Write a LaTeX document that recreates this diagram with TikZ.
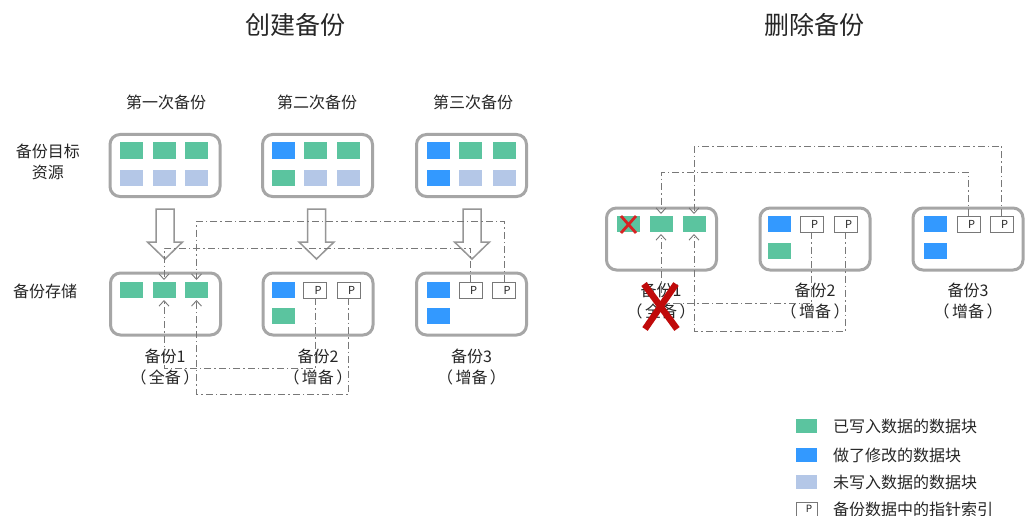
\documentclass[tikz,border=0pt]{standalone}
\usepackage{fontspec}
\setmainfont{Noto Sans CJK SC}
\usetikzlibrary{arrows.meta}
\definecolor{cgreen}{RGB}{91,196,159}
\definecolor{cblue}{RGB}{51,153,255}
\definecolor{clblue}{RGB}{180,199,231}
\definecolor{boxgray}{RGB}{166,166,166}
\definecolor{pgray}{RGB}{120,120,120}
\definecolor{lgray}{RGB}{120,120,120}
\definecolor{agray}{RGB}{150,150,150}
\definecolor{txt}{RGB}{38,38,38}
\definecolor{xred}{RGB}{192,10,10}
\definecolor{xred2}{RGB}{215,35,35}
\newcommand{\qpar}[1]{（\kern2.5pt #1\kern2.5pt）}
\begin{document}
\begin{tikzpicture}[x=1pt,y=-1pt,
  container/.style={draw=boxgray,line width=3pt,rounded corners=10pt,minimum width=110pt,minimum height=62pt,inner sep=0},
  blk/.style={minimum width=23pt,minimum height=16pt,inner sep=0,outer sep=0},
  gb/.style={blk,fill=cgreen},
  bb/.style={blk,fill=cblue},
  lb/.style={blk,fill=clblue},
  pb/.style={blk,draw=pgray,line width=0.8pt,fill=white,font=\fontsize{11}{11}\selectfont,text=txt},
  link/.style={draw=lgray,line width=0.9pt,dash pattern=on 7pt off 3pt on 1.5pt off 3pt},
  tipend/.style={-{Straight Barb[length=5.5pt,width=10pt]},shorten >=2pt},
  bigarrow/.style={draw=agray,line width=1.5pt,fill=white,line join=miter},
  lbl/.style={font=\fontsize{16}{21}\selectfont,text=txt,align=center,inner sep=0},
  ttl/.style={font=\fontsize{25}{28}\selectfont,text=txt,inner sep=0},
  leg/.style={font=\fontsize{16}{20}\selectfont,text=txt,anchor=west,inner sep=0},
  keyblk/.style={minimum width=21pt,minimum height=14pt,inner sep=0}
]
\fill[white] (0,0) rectangle (1025,516);
\useasboundingbox (0,0) rectangle (1025,516);

% titles
\node[ttl] (title1) at (295.5,25) {创建备份};
\node[ttl] (title2) at (814.5,25) {删除备份};

% column headers
\node[lbl] (h1) at (166,102) {第一次备份};
\node[lbl] (h2) at (317,102) {第二次备份};
\node[lbl] (h3) at (473,102) {第三次备份};

% row labels
\node[lbl] (rowA) at (48,161.5) {备份目标\\资源};
\node[lbl] (rowB) at (45,291) {备份存储};

% ---------- left: source boxes
\node[container] (t1) at (165,165.5) {};
\node[gb] (t1a) at (131.5,150.5) {};
\node[gb] (t1b) at (164,150.5) {};
\node[gb] (t1c) at (196.5,150.5) {};
\node[lb] (t1d) at (131.5,178) {};
\node[lb] (t1e) at (164,178) {};
\node[lb] (t1f) at (196.5,178) {};

\node[container] (t2) at (317.5,165.5) {};
\node[bb] (t2a) at (283,150.5) {};
\node[gb] (t2b) at (315,150.5) {};
\node[gb] (t2c) at (348,150.5) {};
\node[gb] (t2d) at (283,178) {};
\node[lb] (t2e) at (315,178) {};
\node[lb] (t2f) at (348,178) {};

\node[container] (t3) at (471.5,165.5) {};
\node[bb] (t3a) at (438.5,150.5) {};
\node[gb] (t3b) at (470.5,150.5) {};
\node[gb] (t3c) at (504,150.5) {};
\node[bb] (t3d) at (438.5,178) {};
\node[lb] (t3e) at (470.5,178) {};
\node[lb] (t3f) at (504,178) {};

% big hollow arrows
\foreach \cx in {165,316.5,472}{
  \draw[bigarrow] ({\cx-9},209) -- ({\cx+9},209) -- ({\cx+9},242) -- ({\cx+17.5},242)
     -- (\cx,259) -- ({\cx-17.5},242) -- ({\cx-9},242) -- cycle;
}

% ---------- left: storage boxes
\node[container] (s1) at (165.5,304) {};
\node[gb] (s1a) at (131.5,290) {};
\node[gb] (s1b) at (164,290) {};
\node[gb] (s1c) at (196.5,290) {};

\node[container] (s2) at (318,304) {};
\node[bb] (s2a) at (283,290) {};
\node[pb] (s2b) at (315,290) {\hspace*{6pt}P};
\node[pb] (s2c) at (348.5,290) {\hspace*{6pt}P};
\node[gb] (s2d) at (283,316) {};

\node[container] (s3) at (471.5,304) {};
\node[bb] (s3a) at (438.5,290) {};
\node[pb] (s3b) at (470.5,290) {\hspace*{6pt}P};
\node[pb] (s3c) at (504,290) {\hspace*{6pt}P};
\node[bb] (s3d) at (438.5,316) {};

% storage labels
\node[lbl] (l1) at (165,367.5) {备份1\\\qpar{全备}};
\node[lbl] (l2) at (318,367.5) {备份2\\\qpar{增备}};
\node[lbl] (l3) at (471.5,367.5) {备份3\\\qpar{增备}};

% left connectors
\coordinate (yA) at (0,248);
\coordinate (yB) at (0,221);
\coordinate (yC) at (0,368);
\coordinate (yD) at (0,394);
\draw[link,tipend] (s3b.north) -- (s3b.north |- yA) -| (s1b.north);
\draw[link,tipend] (s3c.north) -- (s3c.north |- yB) -| (s1c.north);
\draw[link,tipend] (s2b.south) -- (s2b.south |- yC) -| (s1b.south);
\draw[link,tipend] (s2c.south) -- (s2c.south |- yD) -| (s1c.south);

% ---------- right panel
\node[container] (u1) at (661.5,239) {};
\node[gb] (q1a) at (628,224) {};
\node[gb] (q1b) at (661,224) {};
\node[gb] (q1c) at (694,224) {};

\node[container] (u2) at (815,239) {};
\node[bb] (q2a) at (779,224) {};
\node[pb] (q2b) at (811.5,224) {\hspace*{6pt}P};
\node[pb] (q2c) at (845.5,224) {\hspace*{6pt}P};
\node[gb] (q2d) at (779,251) {};

\node[container] (u3) at (968,239) {};
\node[bb] (q3a) at (935,224) {};
\node[pb] (q3b) at (968.5,224) {\hspace*{6pt}P};
\node[pb] (q3c) at (1001.5,224) {\hspace*{6pt}P};
\node[bb] (q3d) at (935,251) {};

\node[lbl] (m1) at (661,301.5) {备份1\\\qpar{全备}};
\node[lbl] (m2) at (815,301.5) {备份2\\\qpar{增备}};
\node[lbl] (m3) at (968,301.5) {备份3\\\qpar{增备}};

\coordinate (yE) at (0,146);
\coordinate (yF) at (0,172);
\coordinate (yG) at (0,303);
\coordinate (yH) at (0,331);
\draw[link,tipend] (q3c.north) -- (q3c.north |- yE) -| (q1c.north);
\draw[link,tipend] (q3b.north) -- (q3b.north |- yF) -| (q1b.north);
\draw[link,tipend] (q2b.south) -- (q2b.south |- yG) -| (q1b.south);
\draw[link,tipend] (q2c.south) -- (q2c.south |- yH) -| (q1c.south);

% red crosses
\draw[xred2,line width=2.8pt] (621,216) -- (636,233);
\draw[xred2,line width=2.8pt] (636,216) -- (621,233);
\draw[xred,line width=6.5pt] (644,284) -- (677,329);
\draw[xred,line width=6.5pt] (676,284) -- (645,329);

% ---------- legend
\node[keyblk,fill=cgreen] (k1) at (806.5,426) {};
\node[leg] (k1t) at (833,426) {已写入数据的数据块};
\node[keyblk,fill=cblue] (k2) at (806.5,455) {};
\node[leg] (k2t) at (833,455) {做了修改的数据块};
\node[keyblk,fill=clblue] (k3) at (806.5,482) {};
\node[leg] (k3t) at (833,482) {未写入数据的数据块};
\node[keyblk,draw=pgray,line width=0.8pt,fill=white,font=\fontsize{10}{10}\selectfont,text=txt] (k4) at (806.5,509) {\hspace*{5pt}P};
\node[leg] (k4t) at (833,509) {备份数据中的指针索引};
\end{tikzpicture}
\end{document}
